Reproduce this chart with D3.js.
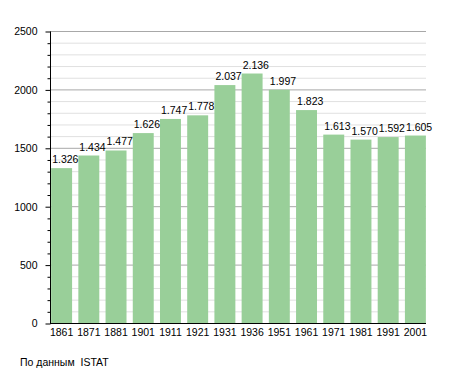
<!DOCTYPE html>
<html>
<head>
<meta charset="utf-8">
<script src="https://cdn.jsdelivr.net/npm/d3@7"></script>
<style>
  html, body { margin: 0; padding: 0; background: #fff; }
  svg { display: block; font-family: "Liberation Sans", Arial, sans-serif; }
</style>
</head>
<body>
<svg id="chart" width="455" height="373"></svg>
<script>
const years = ["1861","1871","1881","1901","1911","1921","1931","1936","1951","1961","1971","1981","1991","2001"];
const population = [1326, 1434, 1477, 1626, 1747, 1778, 2037, 2136, 1997, 1823, 1613, 1570, 1592, 1605];
const valueLabels = ["1.326","1.434","1.477","1.626","1.747","1.778","2.037","2.136","1.997","1.823","1.613","1.570","1.592","1.605"];
const majorTicks = [0, 500, 1000, 1500, 2000, 2500];
const minorTicks = d3.range(0, 2501, 100);
const source = "По данным  ISTAT";

const svg = d3.select("#chart");
const x0 = 50, x1 = 426, yTop = 31, yBot = 323;

const x = d3.scaleBand().domain(years).range([48, 429]).paddingInner(0.23).paddingOuter(0.115);
const y = d3.scaleLinear().domain([0, 2500]).range([yBot, yTop]);

// minor gridlines
svg.append("g").selectAll("line").data(minorTicks.filter(v => v % 500 !== 0)).join("line")
  .attr("x1", x0).attr("x2", x1)
  .attr("y1", d => y(d) + 0.5).attr("y2", d => y(d) + 0.5)
  .attr("stroke", "#e0e0e0").attr("stroke-width", 1);
// major gridlines
svg.append("g").selectAll("line").data(majorTicks.filter(v => v > 0)).join("line")
  .attr("x1", x0).attr("x2", x1)
  .attr("y1", d => y(d) + 0.5).attr("y2", d => y(d) + 0.5)
  .attr("stroke", "#a8a8a8").attr("stroke-width", 1);

// bars
svg.append("g").selectAll("rect").data(population).join("rect")
  .attr("x", (d, i) => x(years[i]))
  .attr("width", x.bandwidth())
  .attr("y", d => y(d))
  .attr("height", d => y(0) - y(d))
  .attr("fill", "#99cf99");

// value labels
svg.append("g").selectAll("text").data(population).join("text")
  .attr("x", (d, i) => x(years[i]) + 1)
  .attr("y", d => y(d) - 5)
  .attr("font-size", 10.5)
  .attr("fill", "#000")
  .text((d, i) => valueLabels[i]);

// y axis minor ticks
const yAxisMinor = d3.axisLeft(y).tickValues(minorTicks.filter(v => v % 500 !== 0)).tickSize(3).tickFormat("");
svg.append("g").attr("transform", `translate(${x0 + 0.5},0.5)`).call(yAxisMinor)
  .call(g => g.select(".domain").remove())
  .call(g => g.selectAll("line").attr("stroke", "#000"));
// y axis major
const yAxis = d3.axisLeft(y).tickValues(majorTicks).tickSize(5).tickPadding(8).tickFormat(d3.format("d"));
svg.append("g").attr("transform", `translate(${x0 + 0.5},0.5)`).call(yAxis)
  .call(g => g.select(".domain").attr("d", `M0,${yTop}V${yBot}`).attr("stroke", "#000"))
  .call(g => g.selectAll("text").attr("font-size", 10.5).attr("fill", "#000")
    .attr("font-family", "Liberation Sans, Arial, sans-serif"))
  .call(g => g.selectAll("line").attr("stroke", "#000"));

// x axis
const xAxis = d3.axisBottom(x).tickSize(0).tickPadding(5);
svg.append("g").attr("transform", `translate(0,${yBot + 0.5})`).call(xAxis)
  .call(g => g.select(".domain").attr("d", `M${x0},0H${x1}`).attr("stroke", "#000"))
  .call(g => g.selectAll("text").attr("font-size", 10.5).attr("fill", "#000")
    .attr("font-family", "Liberation Sans, Arial, sans-serif"));

// footer
svg.append("text").attr("x", 20).attr("y", 366)
  .attr("font-size", 10.5).attr("fill", "#000")
  .attr("xml:space", "preserve").style("white-space", "pre")
  .text(source);
</script>
</body>
</html>
